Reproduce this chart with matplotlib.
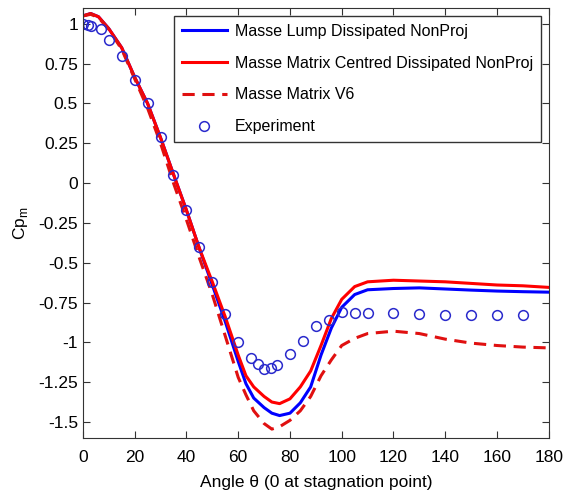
import numpy as np
import matplotlib
matplotlib.use("Agg")
import matplotlib.pyplot as plt

plt.rcParams['font.family'] = ['Liberation Sans', 'DejaVu Sans']

# Angle grid of the computed curves (deg)
theta = [0, 3, 6, 10, 15, 20, 25, 30, 35, 40, 45, 50, 55, 60, 63, 66, 70, 73,
         76, 80, 84, 88, 92, 96, 100, 105, 110, 120, 130, 140, 150, 160, 170, 180]

cp_lump = [1.05, 1.065, 1.045, 0.97, 0.85, 0.665, 0.50, 0.285, 0.055, -0.17,
           -0.41, -0.64, -0.87, -1.12, -1.26, -1.35, -1.41, -1.445, -1.46,
           -1.445, -1.38, -1.28, -1.08, -0.91, -0.78, -0.70, -0.67, -0.662,
           -0.658, -0.665, -0.672, -0.678, -0.682, -0.685]

cp_centred = [1.05, 1.065, 1.045, 0.97, 0.85, 0.665, 0.50, 0.285, 0.055, -0.17,
              -0.41, -0.62, -0.84, -1.08, -1.21, -1.28, -1.34, -1.375, -1.385,
              -1.355, -1.28, -1.18, -1.02, -0.85, -0.73, -0.65, -0.62, -0.61,
              -0.615, -0.62, -0.63, -0.64, -0.645, -0.655]

cp_v6 = [1.05, 1.06, 1.04, 0.965, 0.84, 0.655, 0.47, 0.25, 0.0, -0.23,
         -0.47, -0.70, -0.96, -1.22, -1.33, -1.43, -1.51, -1.545, -1.53,
         -1.49, -1.43, -1.34, -1.21, -1.11, -1.02, -0.975, -0.945, -0.93,
         -0.945, -0.98, -1.005, -1.02, -1.03, -1.035]

# Measured pressure coefficient
theta_exp = [0, 2, 3, 7, 10, 15, 20, 25, 30, 35, 40, 45, 50, 55, 60, 65, 67.5,
             70, 72.5, 75, 80, 85, 90, 95, 100, 105, 110, 120, 130, 140, 150,
             160, 170]
cp_exp = [1.0, 0.99, 0.985, 0.97, 0.90, 0.80, 0.65, 0.50, 0.29, 0.05, -0.17,
          -0.40, -0.62, -0.82, -1.0, -1.10, -1.135, -1.17, -1.16, -1.14, -1.075,
          -0.99, -0.90, -0.86, -0.81, -0.815, -0.815, -0.815, -0.825, -0.83,
          -0.83, -0.83, -0.83]

fig = plt.figure(figsize=(5.64, 4.97), dpi=100)
ax = fig.add_axes([0.147, 0.119, 0.826, 0.865])

ax.plot(theta, cp_lump, color='#0000ff', lw=2.2, label='Masse Lump Dissipated NonProj')
ax.plot(theta, cp_centred, color='#ff0000', lw=2.2, label='Masse Matrix Centred Dissipated NonProj')
ax.plot(theta, cp_v6, color='#e01010', lw=2.2, ls=(0, (4, 2.5)), label='Masse Matrix V6')
ax.plot(theta_exp, cp_exp, 'o', mfc='none', mec='#2a2acc', ms=7, mew=1.1, label='Experiment')

ax.set_xlim(0, 180)
ax.set_ylim(-1.6, 1.1)
ax.set_xticks(np.arange(0, 181, 20))
ax.set_yticks([-1.5, -1.25, -1, -0.75, -0.5, -0.25, 0, 0.25, 0.5, 0.75, 1])
ax.set_yticklabels(['-1.5', '-1.25', '-1', '-0.75', '-0.5', '-0.25', '0', '0.25', '0.5', '0.75', '1'])
ax.tick_params(direction='in', top=True, right=True, labelsize=12.5, length=5, color='#333333')
ax.tick_params(axis='x', pad=9)
for s in ax.spines.values():
    s.set_color('#333333')

ax.set_xlabel('Angle θ (0 at stagnation point)', fontsize=12.5, labelpad=7)
ax.set_ylabel('Cp$_\\mathregular{m}$', fontsize=12.5, labelpad=6)

leg = ax.legend(loc='upper right', fontsize=11.5, fancybox=False, framealpha=1,
                edgecolor='#333333', handlelength=2.8, borderaxespad=0.5,
                labelspacing=1.05, borderpad=0.5, handletextpad=0.5)

fig.savefig('out.png', dpi=100)
